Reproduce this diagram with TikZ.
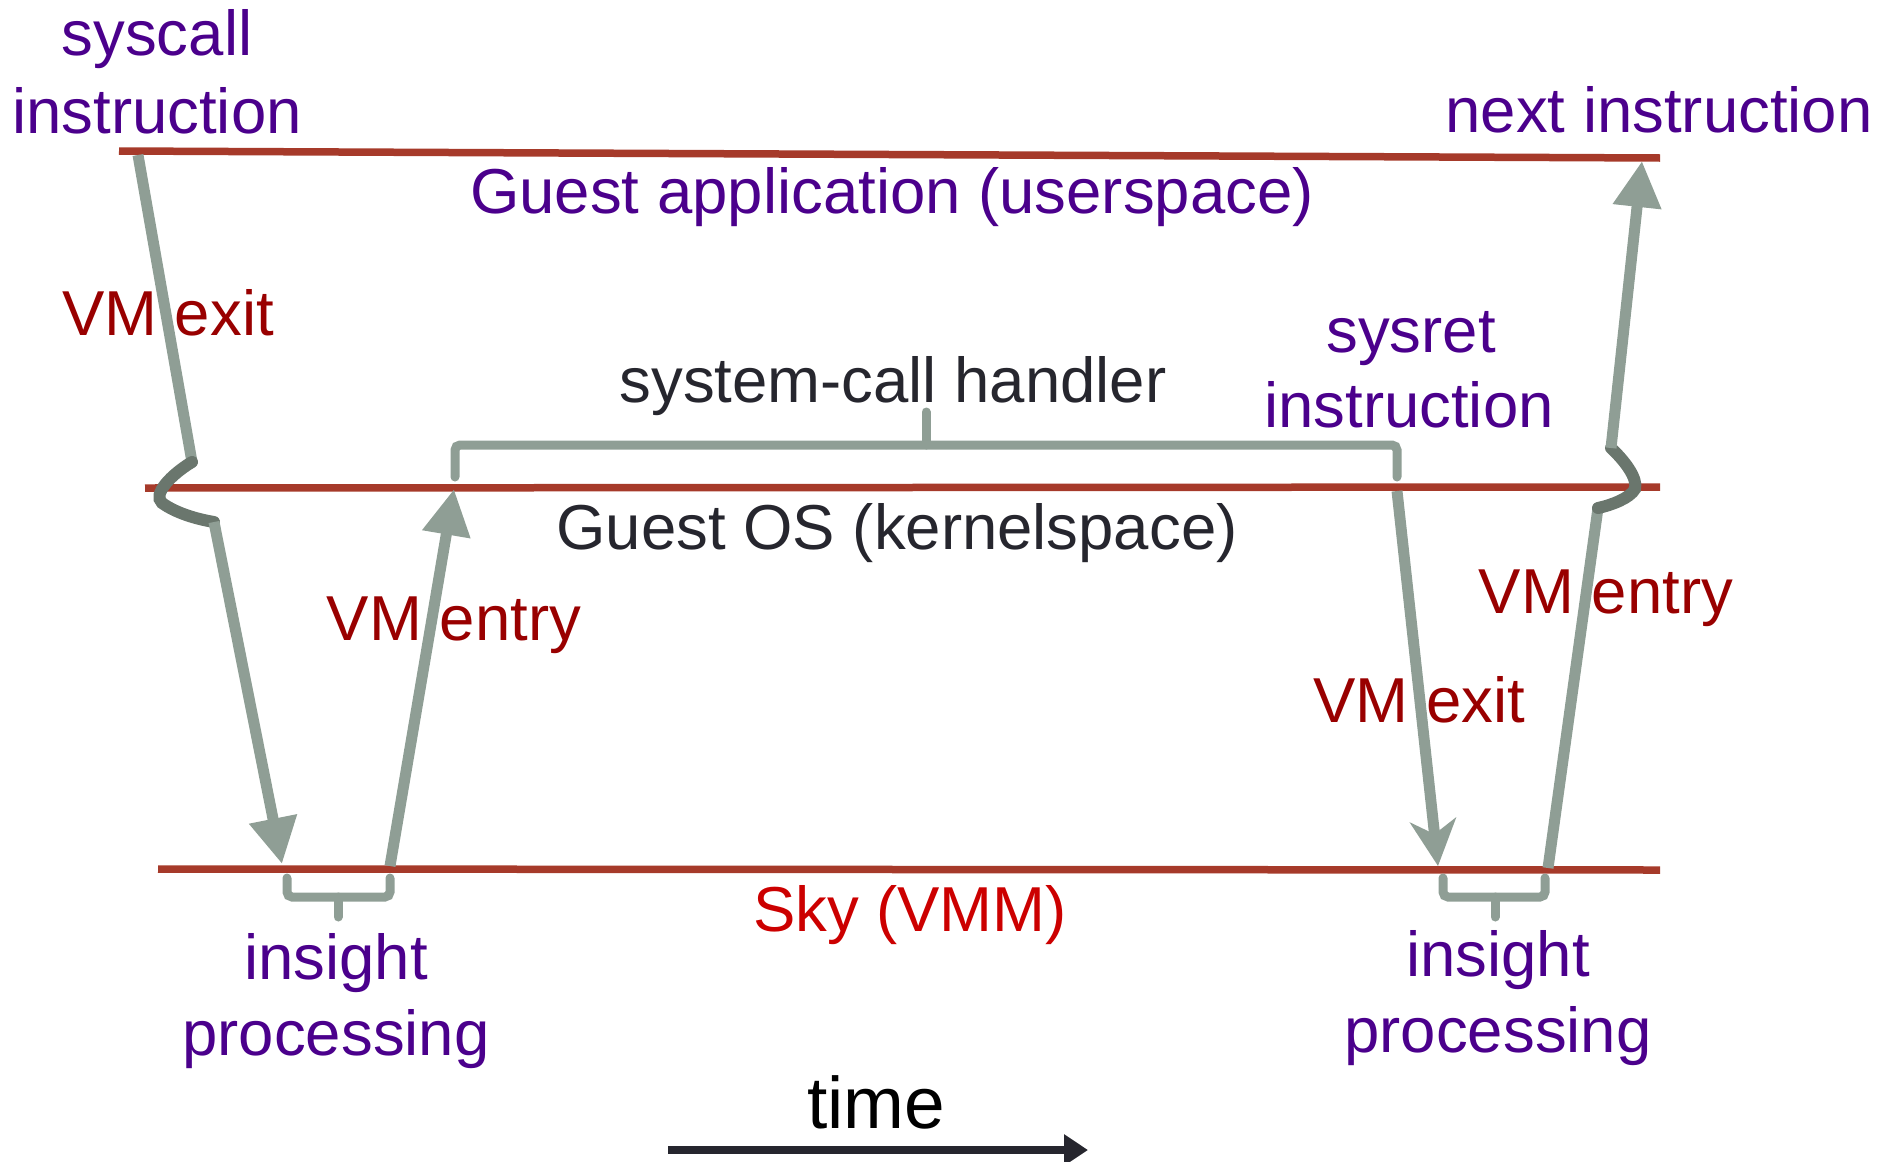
\documentclass[tikz,border=0pt]{standalone}
\usepackage{fontspec}
\setmainfont{Liberation Sans}
\usetikzlibrary{arrows.meta}
\definecolor{lvlred}{HTML}{A63A2A}
\definecolor{flowgray}{HTML}{8F9E95}
\definecolor{hookgray}{HTML}{6A766D}
\definecolor{instpurple}{HTML}{4B008C}
\definecolor{vmred}{HTML}{990000}
\definecolor{vmmred}{HTML}{CC0000}
\definecolor{inktext}{HTML}{26262E}
\begin{document}
\begin{tikzpicture}[x=1pt,y=-1pt,
  lvl/.style={draw=lvlred,line width=7.5pt},
  flow/.style={draw=flowgray,line width=11pt},
  hook/.style={draw=hookgray,line width=12pt,line cap=round},
  brace/.style={draw=flowgray,line width=9pt,line cap=round,rounded corners=5pt},
  tri/.style={-{Triangle[length=46pt,width=46pt]}},
  stl/.style={-{Stealth[length=46pt,width=46pt,inset=14pt]}},
  lbl/.style={inner sep=0pt,anchor=base,font=\fontsize{63.5}{78}\selectfont},
  inst/.style={lbl,text=instpurple,align=center},
  vm/.style={lbl,text=vmred},
  ink/.style={lbl,text=inktext}]
\useasboundingbox (0,0) rectangle (1893,1162);

% privilege levels
\coordinate (appL) at (119,151);  \coordinate (appR) at (1660,158);
\coordinate (osL)  at (145,488);  \coordinate (osR)  at (1660,487);
\coordinate (vmmL) at (158,869);  \coordinate (vmmR) at (1660,870);
\draw[lvl] (appL) -- (appR);
\draw[lvl] (osL) -- (osR);
\draw[lvl] (vmmL) -- (vmmR);

% syscall: VM exit into the VMM
\coordinate (sc0) at (138,155);
\coordinate (sc1) at (192,462);
\coordinate (sc2) at (214,522);
\coordinate (sc3) at (282,864);
\draw[flow] (sc0) -- (sc1);
\draw[hook] (sc1) .. controls (172,474) and (152,494) .. (162,503)
  .. controls (176,513) and (196,519) .. (sc2);
\draw[flow,tri] (sc2) -- (sc3);

% VM entry into the guest OS
\coordinate (en0) at (390,866);
\coordinate (en1) at (454,489);
\draw[flow,tri] (en0) -- (en1);

% sysret: VM exit into the VMM
\coordinate (sr0) at (1397,491);
\coordinate (sr1) at (1438,866);
\draw[flow,stl] (sr0) -- (sr1);

% VM entry back to the application
\coordinate (re0) at (1548,868);
\coordinate (re1) at (1598,508);
\coordinate (re2) at (1611,448);
\coordinate (re3) at (1642,161);
\draw[flow] (re0) -- (re1);
\draw[hook] (re1) .. controls (1612,505) and (1630,498) .. (1635,489)
  .. controls (1638,478) and (1624,460) .. (re2);
\draw[flow,tri] (re2) -- (re3);

% braces
\draw[brace] (455,477) -- (455,445) -- (1397,445) -- (1397,477);
\draw[brace] (926,445) -- (926,412);
\draw[brace] (287,878) -- (287,897) -- (390,897) -- (390,878);
\draw[brace] (338,897) -- (338,917);
\draw[brace] (1443,878) -- (1443,897) -- (1545,897) -- (1545,878);
\draw[brace] (1495,897) -- (1495,917);

% time axis
\coordinate (t0) at (668,1150);
\coordinate (t1) at (1088,1150);
\draw[draw=inktext,line width=8pt,-{Triangle[length=24pt,width=30pt]}] (t0) -- (t1);

% labels
\node[inst] (syscall) at (157,55) {syscall};
\node[inst] (syscallb) at (157,133) {instruction};
\node[inst] (nextins) at (1659,132) {next instruction};
\node[inst] (guestapp) at (892,213) {Guest application (userspace)};
\node[vm] (vmexitA) at (168,335) {VM exit};
\node[ink] (sch) at (893,402) {system-call handler};
\node[inst] (sysret) at (1411,352) {sysret};
\node[inst] (sysretb) at (1409,427) {instruction};
\node[ink] (guestos) at (897,549) {Guest OS (kernelspace)};
\node[vm] (vmentryA) at (454,640) {VM entry};
\node[vm] (vmentryB) at (1606,613) {VM entry};
\node[vm] (vmexitB) at (1419,722) {VM exit};
\node[lbl,text=vmmred] (sky) at (910,931) {Sky (VMM)};
\node[inst] (insA) at (336,979) {insight};
\node[inst] (insAb) at (336,1055) {processing};
\node[inst] (insB) at (1498,976) {insight};
\node[inst] (insBb) at (1498,1052) {processing};
\node[lbl,text=black,font=\fontsize{73}{86}\selectfont] (time) at (876,1128) {time};
\end{tikzpicture}
\end{document}
